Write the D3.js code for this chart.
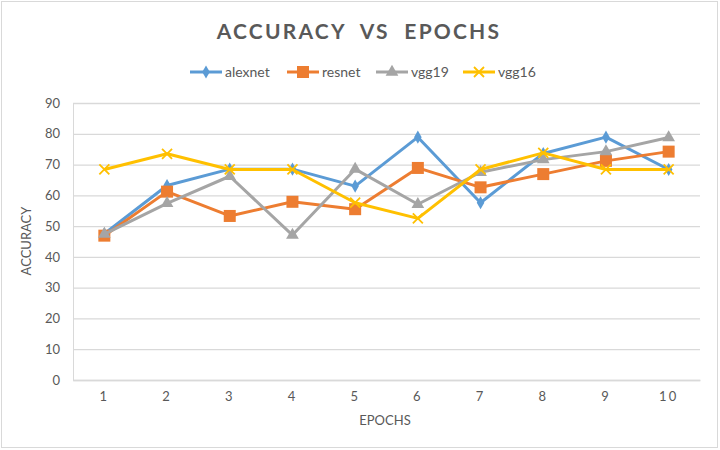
<!DOCTYPE html>
<html><head><meta charset="utf-8">
<script src="https://cdn.jsdelivr.net/npm/d3@7"></script>
<style>body{margin:0;background:#fff}svg{display:block}text{font-family:Lato,"Open Sans",sans-serif;fill:#595959}</style>
</head><body><svg id="c" width="720" height="450"></svg>
<script>
const epochs = ["1","2","3","4","5","6","7","8","9","10"];
const alexnet = [47.5, 63.2, 68.5, 68.5, 63.0, 78.9, 57.6, 73.6, 78.9, 68.4];
const resnet  = [46.9, 61.2, 53.3, 57.9, 55.5, 68.9, 62.6, 66.9, 71.2, 74.2];
const vgg19   = [47.4, 57.4, 66.2, 47.1, 68.5, 57.1, 67.5, 71.6, 74.2, 78.8];
const vgg16   = [68.4, 73.5, 68.4, 68.4, 57.6, 52.5, 68.4, 73.8, 68.4, 68.4];
const yTicks  = [0,10,20,30,40,50,60,70,80,90];
const seriesNames = ["alexnet","resnet","vgg19","vgg16"];
const colors = ["#5B9BD5","#ED7D31","#A5A5A5","#FFC000"];
const series = [alexnet, resnet, vgg19, vgg16];

const svg = d3.select("#c");
svg.append("rect").attr("x",1.5).attr("y",1.5).attr("width",716).attr("height",446)
  .attr("fill","#fff").attr("stroke","#d9d9d9");

const L=73, R=700, T=103, B=380;
const x = d3.scaleBand().domain(epochs).range([L,R]);
const y = d3.scaleLinear().domain([0,90]).range([B,T]);

// gridlines
const yAxis = d3.axisLeft(y).tickValues(yTicks).tickSize(-(R-L)).tickPadding(10);
const gy = svg.append("g").attr("transform",`translate(${L},0)`).call(yAxis);
gy.select(".domain").attr("stroke","#d9d9d9");
gy.selectAll(".tick line").attr("stroke","#d9d9d9").attr("stroke-width",1.3);
gy.selectAll(".tick text").style("font-size","13px").attr("fill","#595959").attr("x",-13);

const xAxis = d3.axisBottom(x).tickSize(0).tickPadding(12);
const gx = svg.append("g").attr("transform",`translate(0,${B})`).call(xAxis);
gx.select(".domain").attr("stroke","#d9d9d9").attr("stroke-width",1.3);
gx.selectAll(".tick text").style("font-size","13px").style("letter-spacing","2px").attr("fill","#595959");

// title
svg.append("text").attr("x",359).attr("y",39).attr("text-anchor","middle")
  .style("font-size","21px").style("font-weight","bold").style("letter-spacing","2.2px")
  .text("ACCURACY  VS  EPOCHS").attr("xml:space","preserve").style("white-space","pre");

// axis titles
svg.append("text").attr("x",385).attr("y",425).attr("text-anchor","middle").style("font-size","13px").text("EPOCHS");
svg.append("text").attr("transform","translate(31,241) rotate(-90)").attr("text-anchor","middle").style("font-size","13px").text("ACCURACY");

// symbols
function marker(g, i, cx, cy, col){
  if(i===0){
    g.append("path").attr("d",d3.symbol(d3.symbolDiamond,50)()).attr("transform",`translate(${cx},${cy})`).attr("fill",col);
  } else if(i===1){
    g.append("rect").attr("x",cx-6).attr("y",cy-6).attr("width",12).attr("height",12).attr("fill",col);
  } else if(i===2){
    g.append("path").attr("d",d3.symbol(d3.symbolTriangle,70)()).attr("transform",`translate(${cx},${cy})`).attr("fill",col);
  } else {
    g.append("path").attr("d",`M${cx-5},${cy-5}L${cx+5},${cy+5}M${cx-5},${cy+5}L${cx+5},${cy-5}`).attr("stroke",col).attr("stroke-width",1.8).attr("fill","none");
  }
}

const line = d3.line().x((d,i)=>x(epochs[i])+x.bandwidth()/2).y(d=>y(d));
series.forEach((s,i)=>{
  const g = svg.append("g");
  g.append("path").datum(s).attr("d",line).attr("fill","none").attr("stroke",colors[i]).attr("stroke-width",3).attr("stroke-linejoin","round");
  s.forEach((v,j)=>marker(g,i,x(epochs[j])+x.bandwidth()/2,y(v),colors[i]));
});

// legend
const legX = [190,287,376,463];
seriesNames.forEach((n,i)=>{
  const g = svg.append("g");
  g.append("line").attr("x1",legX[i]).attr("x2",legX[i]+32).attr("y1",72).attr("y2",72).attr("stroke",colors[i]).attr("stroke-width",3);
  marker(g,i,legX[i]+16,72,colors[i]);
  g.append("text").attr("x",legX[i]+35).attr("y",77).style("font-size","14px").text(n);
});
</script></body></html>
